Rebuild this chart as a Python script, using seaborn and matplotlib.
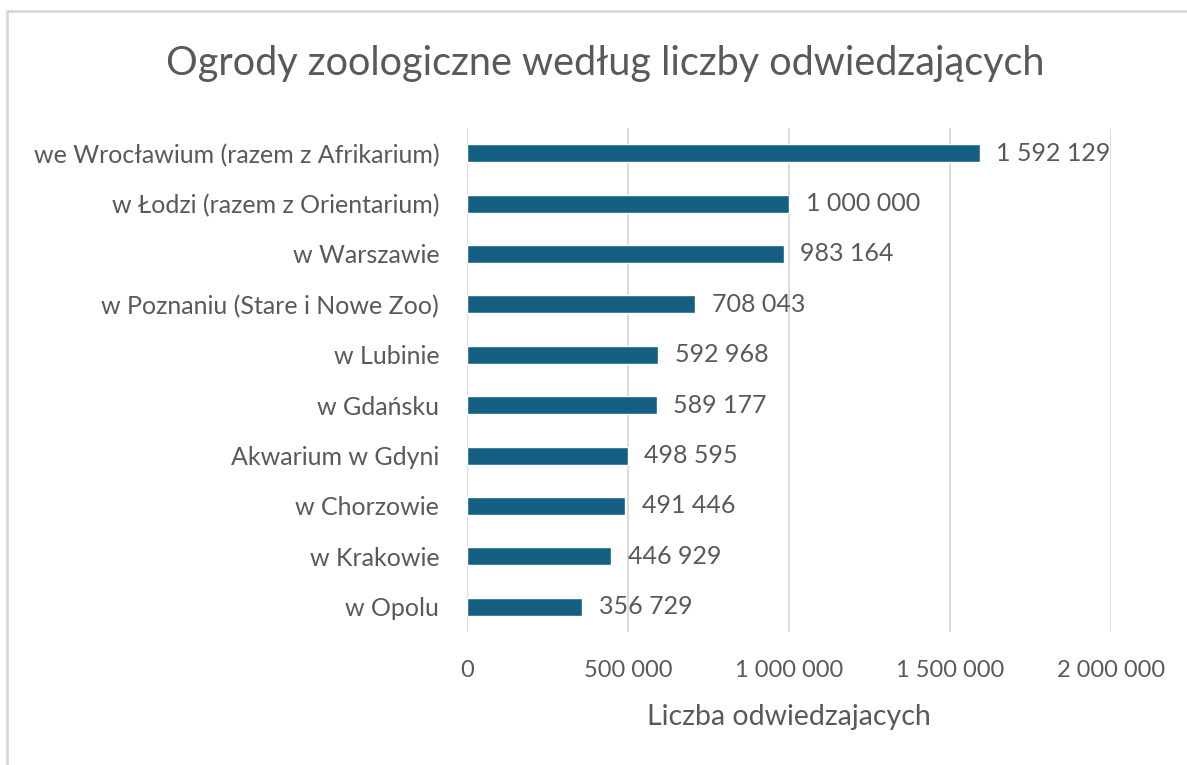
import matplotlib
matplotlib.use("Agg")
import matplotlib.pyplot as plt
import seaborn as sns
import pandas as pd
from matplotlib.lines import Line2D
from matplotlib.ticker import FuncFormatter

# Data
zoos = [
    "we Wrocławium (razem z Afrikarium)",
    "w Łodzi (razem z Orientarium)",
    "w Warszawie",
    "w Poznaniu (Stare i Nowe Zoo)",
    "w Lubinie",
    "w Gdańsku",
    "Akwarium w Gdyni",
    "w Chorzowie",
    "w Krakowie",
    "w Opolu",
]
visitors = [1592129, 1000000, 983164, 708043, 592968, 589177, 498595, 491446, 446929, 356729]
x_ticks = [0, 500000, 1000000, 1500000, 2000000]

TEXT = "#595959"
BAR = "#156082"
GRID = "#d9d9d9"


def fmt_space(v, _=None):
    return f"{int(v):,}".replace(",", " ")


sns.set_theme(style="white")
plt.rcParams["font.family"] = ["Lato", "DejaVu Sans"]

df = pd.DataFrame({"zoo": zoos, "visitors": visitors})

fig = plt.figure(figsize=(11.87, 7.65), dpi=100)
ax = fig.add_axes([0.3934, 0.1739, 0.5426, 0.6588])

sns.barplot(data=df, x="visitors", y="zoo", color=BAR, width=0.36,
            saturation=1, ax=ax, zorder=3)

ax.set_xlim(0, 2000000)
ax.set_xticks(x_ticks)
ax.xaxis.set_major_formatter(FuncFormatter(fmt_space))
ax.grid(axis="x", color=GRID, linewidth=1.3, zorder=0)
ax.grid(axis="y", visible=False)
for s in ax.spines.values():
    s.set_visible(False)

ax.tick_params(axis="x", length=0, pad=20, labelsize=17, labelcolor=TEXT)
ax.tick_params(axis="y", length=0, pad=20, labelsize=18, labelcolor=TEXT)
ax.set_ylabel("")
ax.set_xlabel("Liczba odwiedzajacych", fontsize=20.5, color=TEXT, labelpad=17)

for cont in ax.containers:
    ax.bar_label(cont, labels=[fmt_space(v) for v in cont.datavalues],
                 padding=12, fontsize=18, color=TEXT)

fig.text(0.51, 0.917, "Ogrody zoologiczne według liczby odwiedzających",
         ha="center", va="center", fontsize=28.5, color=TEXT)

# light outer frame (top and left edges visible in the reference)
fig.add_artist(Line2D([0.006, 1.0], [0.986, 0.986], transform=fig.transFigure,
                      color=GRID, linewidth=2))
fig.add_artist(Line2D([0.006, 0.006], [0.0, 0.986], transform=fig.transFigure,
                      color=GRID, linewidth=2))

fig.savefig("out.png", dpi=100, facecolor="white")
